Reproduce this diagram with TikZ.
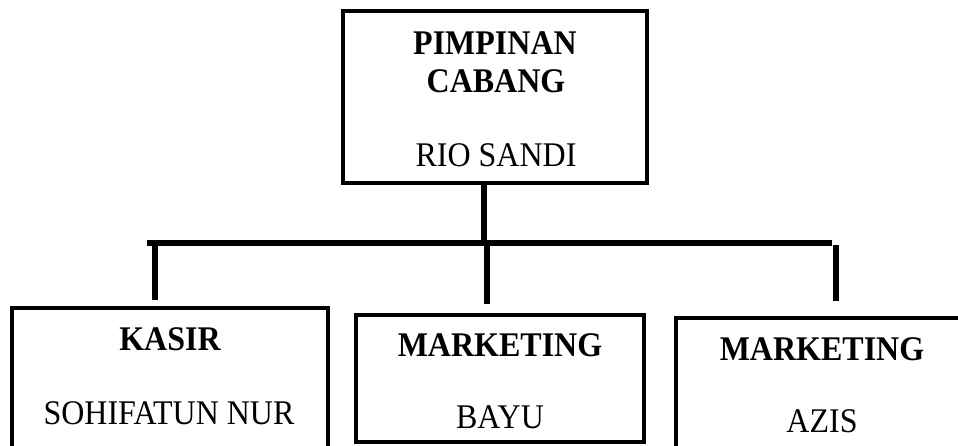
\documentclass[tikz,border=0pt]{standalone}
\usepackage{fontspec}
\setmainfont{Liberation Serif}
\usetikzlibrary{fit}
\newcommand\vstr[1]{\scalebox{1}[1.08]{#1}}
\begin{document}
\begin{tikzpicture}[x=0.75pt,y=-0.75pt,
  box/.style={draw=black,line width=2.6pt,inner sep=0pt,fill=none},
  conn/.style={draw=black,line width=4pt},
  lbl/.style={anchor=base,inner sep=0pt,font=\fontsize{24}{28}\selectfont},
  blbl/.style={lbl,font=\fontsize{24}{28}\selectfont\bfseries}]
\useasboundingbox (0,0) rectangle (958,446);
\clip (0,0) rectangle (958,446);
\fill[white] (0,0) rectangle (958,446);
% boxes
\node[box,fit={(343,11) (647,183)}] (top) {};
\node[box,fit={(12,308) (328,480)}] (kasir) {};
\node[box,fit={(356,315) (644,442)}] (mkt1) {};
\node[box,fit={(676,318) (968,480)}] (mkt2) {};
% texts
\node[blbl] (t1) at (495,55) {\vstr{PIMPINAN}};
\node[blbl] (t2) at (496,92) {\vstr{CABANG}};
\node[lbl] (t3) at (496,166) {\vstr{RIO SANDI}};
\node[blbl] (k1) at (170,350) {\vstr{KASIR}};
\node[lbl] (k2) at (169,424) {\vstr{SOHIFATUN NUR}};
\node[blbl] (m1) at (500,356) {\vstr{MARKETING}};
\node[lbl] (m2) at (500,428) {\vstr{BAYU}};
\node[blbl] (a1) at (822,360) {\vstr{MARKETING}};
\node[lbl] (a2) at (822,432) {\vstr{AZIS}};
% connector coordinates
\coordinate (topdown) at (484,183);
\coordinate (junction) at (484,243);
\coordinate (hl) at (147,243);
\coordinate (hr) at (832,243);
\coordinate (d1a) at (155,243);
\coordinate (d1b) at (155,300);
\coordinate (d2a) at (487,243);
\coordinate (d2b) at (487,304);
\coordinate (d3a) at (836,245);
\coordinate (d3b) at (836,301);
\draw[conn] (topdown) -- (junction);
\draw[conn] (hl) -- (hr);
\draw[conn] (d1a) -- (d1b);
\draw[conn] (d2a) -- (d2b);
\draw[conn] (d3a) -- (d3b);
\end{tikzpicture}
\end{document}
